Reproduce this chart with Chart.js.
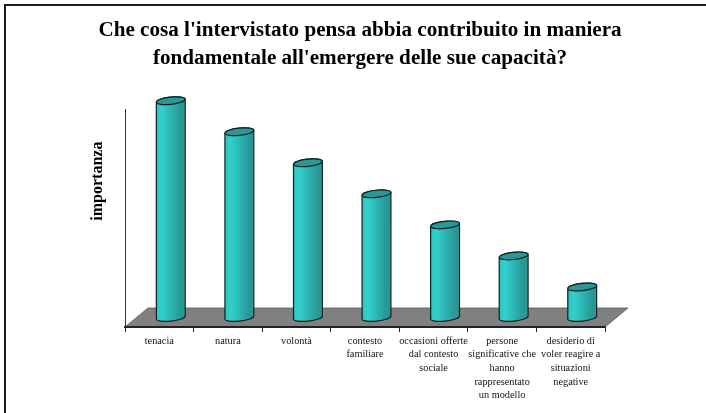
<!DOCTYPE html>
<html>
<head>
<meta charset="utf-8">
<style>
  html, body { margin: 0; padding: 0; background: #fff; }
  #wrap { position: relative; width: 706px; height: 413px; }
</style>
</head>
<body>
<div id="wrap"><canvas id="chart"></canvas></div>
<script src="https://cdn.jsdelivr.net/npm/chart.js@4/dist/chart.umd.min.js"></script>
<script>
// --- data ---
const titleLines = ["Che cosa l'intervistato pensa abbia contribuito in maniera", "fondamentale all'emergere delle sue capacità?"];
const yTitle = 'importanza';
const categories = [
  ['tenacia'],
  ['natura'],
  ['volontà'],
  ['contesto', 'familiare'],
  ['occasioni offerte', 'dal contesto', 'sociale'],
  ['persone', 'significative che', 'hanno', 'rappresentato', 'un modello'],
  ['desiderio di', 'voler reagire a', 'situazioni', 'negative']
];
const importance = [7, 6, 5, 4, 3, 2, 1];

const SERIF = '"Liberation Serif", "Times New Roman", serif';
// depth of the pseudo-3D floor; bars stand halfway back
const DEPTH_X = 23;
const DEPTH_Y = 19;
const TILT = -6 * Math.PI / 180;

// bar drawn as a slightly tilted cylinder
class CylinderElement extends Chart.BarElement {
  static id = 'cylinder';
  draw(ctx) {
    const { x, y, base, width } = this.getProps(['x', 'y', 'base', 'width'], true);
    const cx = x + DEPTH_X / 2;
    const top = y - DEPTH_Y / 2 + 0.5;
    const bottom = base - DEPTH_Y / 2;
    const r = width / 2;
    const ry = 3.6;
    const dx = r * Math.cos(TILT);
    const dy = r * Math.sin(TILT);

    const grad = ctx.createLinearGradient(cx - r, 0, cx + r, 0);
    grad.addColorStop(0, '#2cc4c2');
    grad.addColorStop(0.2, '#33d0cc');
    grad.addColorStop(0.5, '#2db6b4');
    grad.addColorStop(0.8, '#289a98');
    grad.addColorStop(0.93, '#2a9492');
    grad.addColorStop(1, '#3aa5a3');

    ctx.save();
    ctx.beginPath();
    ctx.moveTo(cx - dx, top - dy);
    ctx.lineTo(cx - dx, bottom - dy);
    ctx.ellipse(cx, bottom, r, ry, TILT, Math.PI, 0, true);
    ctx.lineTo(cx + dx, top + dy);
    ctx.ellipse(cx, top, r, ry, TILT, 0, Math.PI, true);
    ctx.closePath();
    ctx.fillStyle = grad;
    ctx.fill();
    ctx.lineWidth = 1.2;
    ctx.strokeStyle = '#0c2222';
    ctx.stroke();

    ctx.beginPath();
    ctx.ellipse(cx, top, r, ry, TILT, 0, Math.PI * 2);
    ctx.fillStyle = '#2a9896';
    ctx.fill();
    ctx.stroke();
    ctx.restore();
  }
}

class CylinderController extends Chart.BarController {
  static id = 'cylinder';
  static defaults = { ...Chart.BarController.defaults, dataElementType: 'cylinder' };
  static overrides = Chart.BarController.overrides;
}

Chart.register(CylinderElement, CylinderController);

// outer frame and grey floor, under the axes
const backdrop = {
  id: 'backdrop',
  beforeDraw(chart) {
    const { ctx, width, height } = chart;
    const xs = chart.scales.x;
    const floorY = chart.scales.y.getPixelForValue(0);

    ctx.save();
    ctx.strokeStyle = '#1c1c1c';
    ctx.lineWidth = 2;
    ctx.beginPath();
    ctx.moveTo(5, height);
    ctx.lineTo(5, 5);
    ctx.lineTo(width, 5);
    ctx.stroke();

    ctx.beginPath();
    ctx.moveTo(xs.left, floorY);
    ctx.lineTo(xs.left + DEPTH_X, floorY - DEPTH_Y);
    ctx.lineTo(xs.right + DEPTH_X, floorY - DEPTH_Y);
    ctx.lineTo(xs.right, floorY);
    ctx.closePath();
    ctx.fillStyle = '#808080';
    ctx.fill();
    ctx.lineWidth = 0.8;
    ctx.strokeStyle = '#555';
    ctx.stroke();
    ctx.restore();
  }
};

// y title sits above the axis midpoint, so it is placed here and not by the scale
const axisLabel = {
  id: 'axisLabel',
  afterDraw(chart) {
    const { ctx } = chart;
    const ys = chart.scales.y;
    ctx.save();
    ctx.translate(ys.right - 27, ys.getPixelForValue(4.7));
    ctx.rotate(-Math.PI / 2);
    ctx.font = 'bold 16px ' + SERIF;
    ctx.fillStyle = '#000';
    ctx.textAlign = 'center';
    ctx.textBaseline = 'middle';
    ctx.fillText(yTitle, 0, 0);
    ctx.restore();
  }
};

new Chart(document.getElementById('chart'), {
  type: 'cylinder',
  plugins: [backdrop, axisLabel],
  data: {
    labels: categories,
    datasets: [{
      data: importance,
      clip: false,
      barPercentage: 1,
      categoryPercentage: 0.423
    }]
  },
  options: {
    responsive: true,
    maintainAspectRatio: false,
    animation: false,
    layout: { padding: { left: 94, right: 80, top: 0, bottom: 0 } },
    plugins: {
      legend: { display: false },
      tooltip: { enabled: false },
      title: {
        display: true,
        text: titleLines,
        color: '#000',
        font: { family: SERIF, size: 21.15, weight: 'bold', lineHeight: 1.31 },
        padding: { top: 17, bottom: 37.3 }
      }
    },
    scales: {
      x: {
        type: 'category',
        afterFit(scale) { scale.height = 86; },
        border: { display: true, color: '#222', width: 2 },
        grid: { display: true, offset: true, drawOnChartArea: false, drawTicks: true, tickLength: 5, tickColor: '#222' },
        ticks: {
          autoSkip: false,
          maxRotation: 0,
          padding: 2,
          color: '#111',
          font: { family: SERIF, size: 10.3, lineHeight: 1.33 }
        }
      },
      y: {
        min: 0,
        max: 7,
        afterFit(scale) { scale.width = 31; },
        border: { display: true, color: '#333', width: 1 },
        grid: { display: false, drawTicks: false },
        ticks: { display: false, stepSize: 1 }
      },
      // empty margin on the right keeps the plot narrower than the title
      margin: {
        position: 'right',
        afterFit(scale) { scale.width = 21; },
        border: { display: false },
        grid: { display: false, drawTicks: false },
        ticks: { display: false }
      }
    }
  }
});
</script>
</body>
</html>
